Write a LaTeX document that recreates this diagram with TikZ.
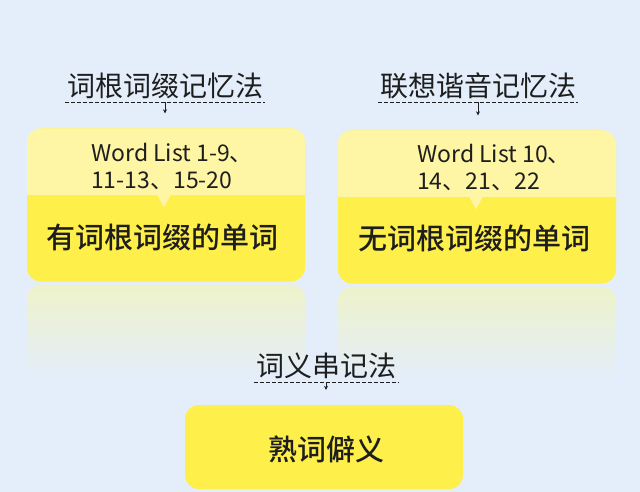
\documentclass[tikz,border=0pt]{standalone}
\usepackage{fontspec}
\setmainfont{Noto Sans CJK SC}
\newfontfamily\cjkmedium{Noto Sans CJK SC Medium}
\usetikzlibrary{positioning,arrows.meta}
\definecolor{bgblue}{HTML}{E3EEFA}
\definecolor{paleyellow}{HTML}{FFF6A5}
\definecolor{deepyellow}{HTML}{FFEF4A}
\definecolor{mirroryellow}{HTML}{EEF2CA}
\definecolor{inkgray}{HTML}{1E1E1E}

\begin{document}
\begin{tikzpicture}[
    x=1pt,y=-1pt,
    methodTitle/.style={inner xsep=2pt,inner ysep=3pt,text=inkgray,font=\fontsize{28}{30}\selectfont},
    wordBox/.style={minimum width=278pt,minimum height=153pt,inner sep=0pt,rounded corners=14pt,fill=deepyellow},
    senseBox/.style={wordBox,minimum height=84pt},
    listText/.style={anchor=west,inner sep=0pt,align=left,text=inkgray,font=\fontsize{23}{27}\selectfont},
    mainText/.style={inner sep=0pt,text=inkgray,font=\cjkmedium\fontsize{29}{30}\selectfont},
    hintLine/.style={draw=inkgray,line width=0.8pt,dash pattern=on 4pt off 2pt},
    hintArrow/.style={draw=inkgray,line width=0.8pt,-{Stealth[length=4pt,width=4pt]},shorten >=15pt},
    mirrorBox/.style={rounded corners=14pt,top color=mirroryellow,bottom color=bgblue}
  ]
    \fill[bgblue] (0,0) rectangle (640,492);
    \useasboundingbox (0,0) rectangle (640,492);

    % word boxes
    \node[wordBox] (rootBox) at (166,205) {};
    \node[wordBox] (soundBox) at (477,207) {};
    \node[senseBox] (senseBox) at (324,447) {};

    % pale upper halves with pointer
    \foreach \b/\tip in {rootBox/-2,soundBox/-1} {
      \begin{scope}
        \clip[rounded corners=14pt] (\b.north west) rectangle (\b.south east);
        \fill[paleyellow] (\b.north west) rectangle ([yshift=-67pt]\b.north east);
      \end{scope}
      \fill[paleyellow] ([xshift=\tip pt-7pt,yshift=-66pt]\b.north) -- ++(14pt,0) -- ++(-7pt,-13pt) -- cycle;
    }

    % reflections
    \shade[mirrorBox] ([yshift=-3pt]rootBox.south west) rectangle ([yshift=-95pt]rootBox.south east);
    \shade[mirrorBox] ([yshift=-3pt]soundBox.south west) rectangle ([yshift=-95pt]soundBox.south east);

    % texts in boxes
    \node[listText] (rootList) at (91,166) {Word List 1-9、\\11-13、15-20};
    \node[listText] (soundList) at (417,167) {Word List 10、\\14、21、22};
    \node[mainText] (rootMain) at (162,237) {有词根词缀的单词};
    \node[mainText] (soundMain) at (474,238) {无词根词缀的单词};
    \node[mainText] (senseMain) at (326,449) {熟词僻义};

    % method titles
    \node[methodTitle] (rootTitle) at (165,86) {词根词缀记忆法};
    \node[methodTitle] (soundTitle) at (478,86) {联想谐音记忆法};
    \node[methodTitle] (senseTitle) at (326,366) {词义串记法};

    \foreach \t in {rootTitle,soundTitle,senseTitle}
      \draw[hintLine] (\t.south west) -- (\t.south east);

    \draw[hintArrow] (rootTitle.south) -- (rootTitle.south |- rootBox.north);
    \draw[hintArrow] (soundTitle.south) -- (soundTitle.south |- soundBox.north);
    \draw[hintArrow] (senseTitle.south) -- (senseTitle.south |- senseBox.north);
  \end{tikzpicture}
\end{document}
